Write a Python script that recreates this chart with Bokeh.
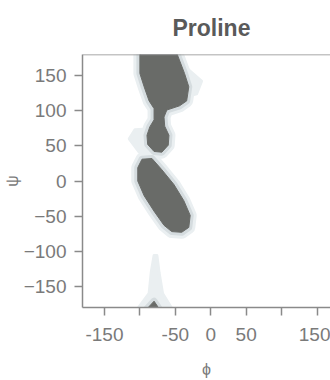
from bokeh.plotting import figure
from bokeh.models import Range1d, FixedTicker, Span, Title
from bokeh.embed import file_html
from bokeh.resources import INLINE

chart_title = "Proline"
x_label = "ϕ"
y_label = "ψ"
phi_ticks = [-150, -100, -50, 0, 50, 100, 150]
phi_tick_labels = {-150: "-150", -100: "", -50: "-50", 0: "0", 50: "50", 100: "", 150: "150"}
psi_ticks = [-150, -100, -50, 0, 50, 100, 150]

# dense (dark) regions: outline vertices in (phi, psi) degrees
upper_phi = [-100, -48, -37, -31, -34, -44, -62, -66, -65, -59, -60, -69, -80, -89, -90, -86, -80, -80, -87, -94, -100]
upper_psi = [182, 182, 153, 134, 114, 107, 101, 91, 78, 65, 51, 41, 42, 52, 65, 77, 87, 103, 114, 134, 153]

middle_phi = [-97, -83, -69, -52, -38, -29, -31, -41, -55, -66, -80, -94, -103, -103]
middle_psi = [31, 32, 16, -5, -28, -49, -66, -73, -72, -63, -43, -21, 0, 19]

bottom_phi = [-91, -72, -80]
bottom_psi = [-183, -183, -171]

# sparse (light) regions
side_phi = [-115, -107, -90, -90, -101]
side_psi = [60, 73, 74, 41, 41]

stem_phi = [-104, -54, -68, -73, -76, -80, -84, -87]
stem_psi = [-183, -183, -160, -130, -106, -106, -130, -160]

right_phi = [-37, -13, -20, -34]
right_psi = [163, 142, 124, 120]

dark_color = "#696b68"
halo_color = "#d5dcdf"
outer_color = "#eaeff1"

p = figure(width=330, height=380, output_backend="svg", toolbar_location=None, title=None,
           x_range=Range1d(-181, 169), y_range=Range1d(-180, 180),
           min_border_left=81, min_border_right=0, min_border_top=54, min_border_bottom=0)

p.outline_line_color = None
p.xgrid.visible = False
p.ygrid.visible = False
p.background_fill_color = "white"
p.border_fill_color = "white"

dark_xs = [upper_phi, middle_phi, bottom_phi]
dark_ys = [upper_psi, middle_psi, bottom_psi]
light_xs = [side_phi, stem_phi, right_phi]
light_ys = [side_psi, stem_psi, right_psi]

# sparse regions
p.patches(light_xs, light_ys,
          fill_color=outer_color, line_color=outer_color, line_width=3, line_join="round")
# halo around dense regions
p.patches(dark_xs, dark_ys,
          fill_color=outer_color, line_color=outer_color, line_width=13, line_join="round")
p.patches(dark_xs, dark_ys,
          fill_color=halo_color, line_color=halo_color, line_width=7, line_join="round")
p.patches(dark_xs, dark_ys, fill_color=dark_color, line_color=dark_color, line_width=1, line_join="round")

p.add_layout(Span(location=180, dimension="width", line_color="#8a8a8a", line_width=1.5))

label_font = "Liberation Sans"
for ax, ticks in ((p.xaxis[0], phi_ticks), (p.yaxis[0], psi_ticks)):
    ax.ticker = FixedTicker(ticks=ticks)
    ax.axis_line_color = "#8a8a8a"
    ax.axis_line_width = 1.5
    ax.major_tick_line_color = "#8a8a8a"
    ax.major_tick_line_width = 1.5
    ax.major_tick_in = 0
    ax.major_tick_out = 8
    ax.minor_tick_line_color = None
    ax.major_label_text_color = "#7a7a7a"
    ax.major_label_text_font = label_font
    ax.major_label_text_font_size = "19px"
    ax.axis_label_text_font = label_font
    ax.axis_label_text_font_size = "16px"
    ax.axis_label_text_font_style = "normal"
    ax.axis_label_text_color = "#7a7a7a"

p.xaxis.major_label_overrides = phi_tick_labels
p.xaxis.major_label_standoff = 12
p.xaxis.axis_label = x_label
p.xaxis.axis_label_standoff = 17
p.yaxis.major_label_standoff = 8
p.yaxis.axis_label = y_label
p.yaxis.axis_label_standoff = 0

# spacer (white text, closest to the frame), then the title above it
p.add_layout(Title(text=".", text_font_size="16px", text_color="white", standoff=0), "above")
p.add_layout(Title(text=chart_title, align="left", offset=90, standoff=0,
                   text_font=label_font, text_font_size="23px", text_font_style="bold",
                   text_color="#5a5a5a"), "above")

open("out.html", "w").write(file_html(p, INLINE))
